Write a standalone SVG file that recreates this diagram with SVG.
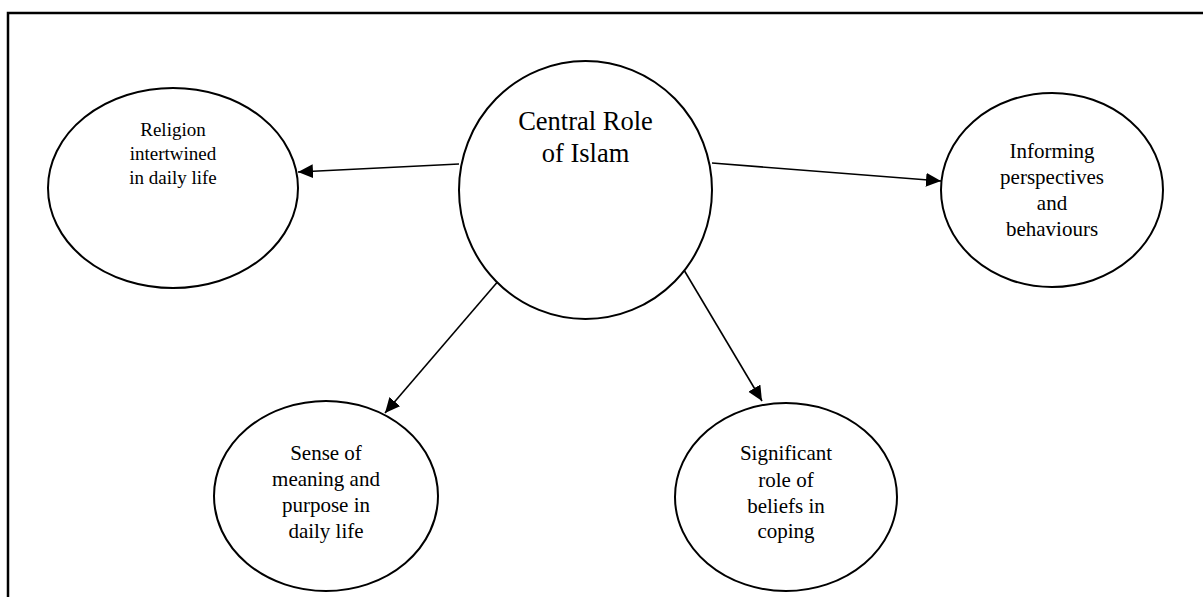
<svg xmlns="http://www.w3.org/2000/svg" width="1203" height="597" viewBox="0 0 1203 597">
<style>
.node ellipse{fill:#fff;stroke:#000;stroke-width:2}
.node text{fill:#000;text-anchor:middle}
.big{font-size:26.5px}
.small{font-size:21px}
.edge{stroke:#000;stroke-width:1.6;fill:none;marker-end:url(#arr)}
.frame{stroke:#000;stroke-width:2.5;fill:none}
</style>
<defs>
<marker id="arr" markerUnits="userSpaceOnUse" markerWidth="16" markerHeight="15" refX="15" refY="7" orient="auto">
<path d="M0,0 L15,7 L0,14 z" fill="#000"/>
</marker>
</defs>
<rect width="1203" height="597" fill="#fff"/>
<path class="frame" d="M8,600 L8,13 L1206,13"/>
<g id="connectors">
<line class="edge" x1="459" y1="164" x2="298" y2="172"/>
<line class="edge" x1="712" y1="163" x2="941" y2="181"/>
<line class="edge" x1="500" y1="279" x2="385" y2="413"/>
<line class="edge" x1="681" y1="265" x2="762" y2="401"/>
</g>
<g font-family="Liberation Serif, Tinos, Times New Roman, DejaVu Serif, serif">
<g id="central" class="node">
<ellipse cx="585.5" cy="190" rx="126.5" ry="129"/>
<text class="big" x="585.5" y="130">Central Role</text>
<text class="big" x="585.5" y="162">of Islam</text>
</g>
<g id="religion" class="node">
<ellipse cx="173" cy="188" rx="125" ry="100"/>
<text class="small" x="173" y="136" style="font-size:19px">Religion</text>
<text class="small" x="173" y="160" style="font-size:19px">intertwined</text>
<text class="small" x="173" y="184" style="font-size:19px">in daily life</text>
</g>
<g id="informing" class="node">
<ellipse cx="1052" cy="190" rx="111" ry="97"/>
<text class="small" x="1052" y="158">Informing</text>
<text class="small" x="1052" y="184">perspectives</text>
<text class="small" x="1052" y="210">and</text>
<text class="small" x="1052" y="236">behaviours</text>
</g>
<g id="sense" class="node">
<ellipse cx="326" cy="496" rx="112" ry="95"/>
<text class="small" x="326" y="460">Sense of</text>
<text class="small" x="326" y="486">meaning and</text>
<text class="small" x="326" y="512">purpose in</text>
<text class="small" x="326" y="538">daily life</text>
</g>
<g id="significant" class="node">
<ellipse cx="786" cy="497" rx="111" ry="94"/>
<text class="small" x="786" y="460">Significant</text>
<text class="small" x="786" y="487">role of</text>
<text class="small" x="786" y="513">beliefs in</text>
<text class="small" x="786" y="538">coping</text>
</g>
</g>
</svg>
